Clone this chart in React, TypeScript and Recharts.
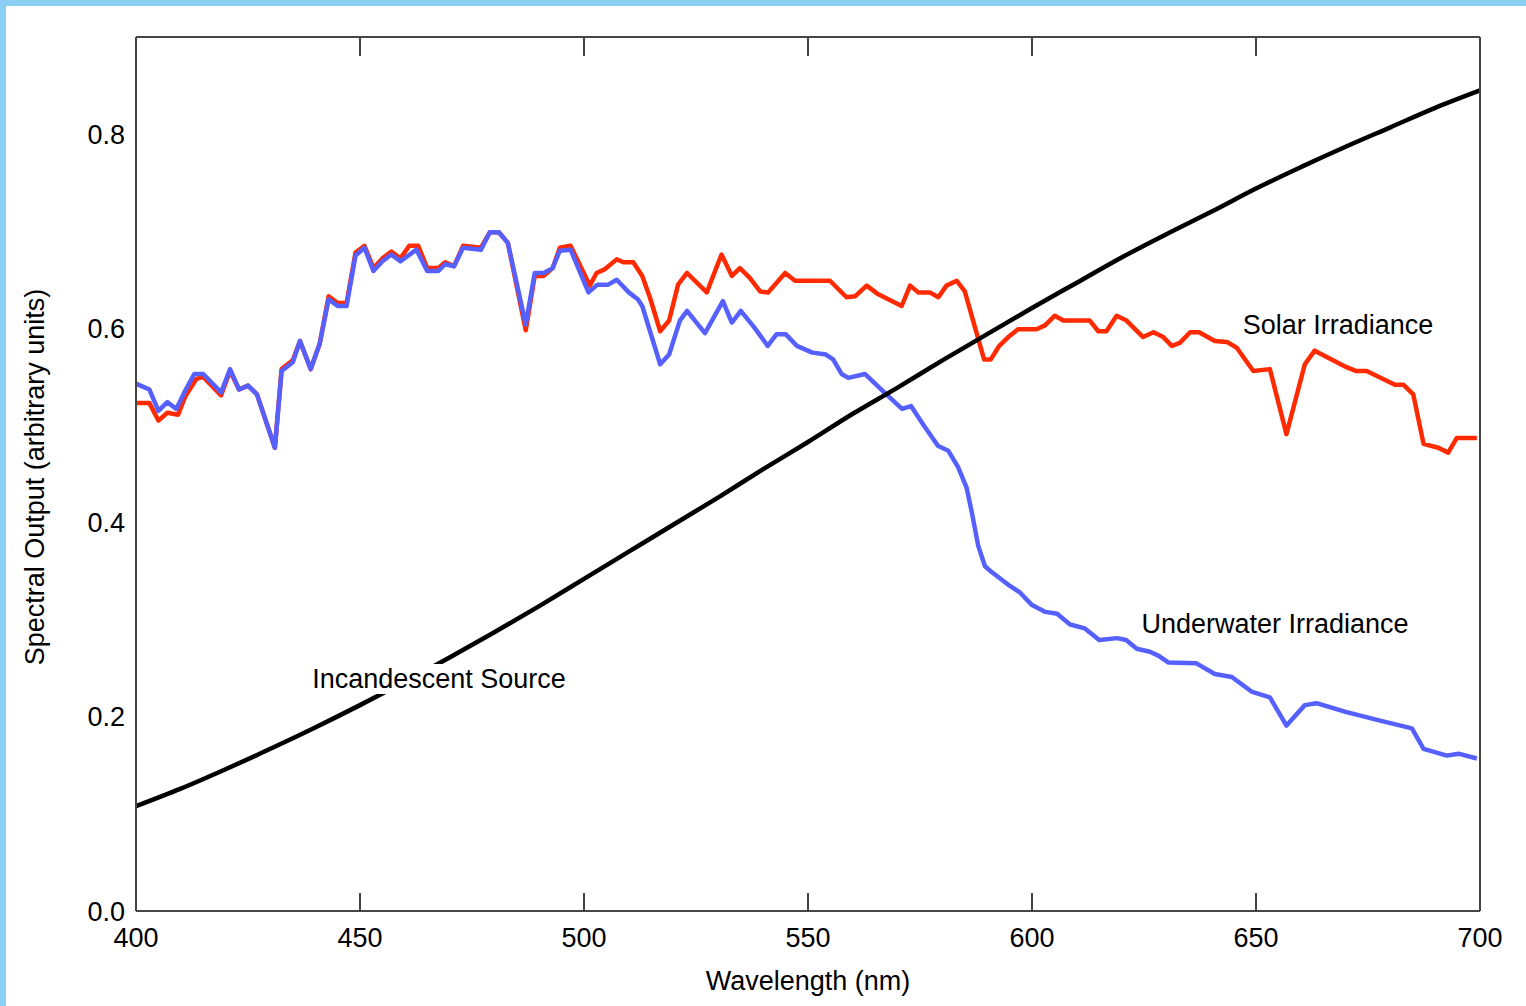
import React from 'react';
import { LineChart, Line, XAxis, YAxis } from 'recharts';

const FONT = '"Liberation Sans", Arial, Helvetica, sans-serif';

const xTicks = [400, 450, 500, 550, 600, 650, 700];
const yTicks = [0, 0.2, 0.4, 0.6, 0.8];

const solarWavelengths = [
  400, 403, 405, 407, 409.4, 411, 413.5, 415, 419, 421, 423, 425, 427, 431, 432.5, 435, 436.6, 439, 441, 443,
  445, 447, 449, 451, 453, 455, 457, 459, 461, 463, 465, 467.5, 469, 471, 473, 477, 479, 481, 483, 487,
  489, 491, 493, 494.6, 497, 501.3, 502.8, 504.7, 507.3, 508.8, 511, 513, 514.7, 517, 519, 521, 523, 527.4, 530.7, 533,
  534.8, 537, 539.3, 541.1, 544.9, 547.1, 554.9, 558.6, 560.5, 563.1, 565.7, 570.9, 572.8, 574.6, 577.2, 579.1, 580.9, 583.2, 585, 589.3,
  590.8, 592.7, 594.7, 596.9, 601, 602.9, 605.1, 607, 612.9, 614.8, 616.6, 618.9, 621.1, 624.8, 627.1, 629.3, 631.2, 633, 635.3, 637.3,
  640.8, 643.5, 645.7, 649.4, 653.1, 656.8, 660.9, 663.1, 670.2, 672.4, 674.7, 681, 682.9, 685.1, 687.4, 690.7, 692.9, 694.8, 699.3,
];
const solarValues = [
  0.523, 0.523, 0.505, 0.513, 0.511, 0.53, 0.548, 0.55, 0.531, 0.556, 0.537, 0.541, 0.532, 0.477, 0.558, 0.567, 0.587, 0.558, 0.584, 0.633,
  0.626, 0.626, 0.678, 0.685, 0.662, 0.672, 0.679, 0.672, 0.685, 0.685, 0.662, 0.662, 0.668, 0.664, 0.685, 0.683, 0.699, 0.699, 0.688, 0.598,
  0.654, 0.654, 0.662, 0.683, 0.685, 0.644, 0.657, 0.661, 0.671, 0.668, 0.668, 0.654, 0.632, 0.597, 0.608, 0.645, 0.657, 0.637, 0.676, 0.654,
  0.662, 0.652, 0.638, 0.637, 0.657, 0.649, 0.649, 0.632, 0.633, 0.644, 0.635, 0.623, 0.644, 0.637, 0.637, 0.632, 0.644, 0.649, 0.638, 0.568,
  0.568, 0.582, 0.591, 0.599, 0.599, 0.603, 0.613, 0.608, 0.608, 0.597, 0.597, 0.613, 0.608, 0.591, 0.596, 0.591, 0.582, 0.585, 0.596, 0.596,
  0.587, 0.586, 0.58, 0.556, 0.558, 0.491, 0.563, 0.577, 0.56, 0.556, 0.556, 0.542, 0.542, 0.532, 0.481, 0.477, 0.472, 0.487, 0.487,
];

const underwaterWavelengths = [
  400, 403, 405, 407, 409, 411, 413, 415, 419, 421, 423, 425, 427, 431, 432.5, 435, 436.6, 439, 441, 443,
  445, 447, 449, 451, 453, 455, 457, 459, 462.6, 465, 467.5, 469, 471, 473, 477, 479, 481, 483, 487, 489,
  491, 493, 494.6, 497, 501, 503, 505.4, 507.3, 510, 512, 513, 517, 519, 521.4, 523, 527, 531, 533, 535, 538,
  541, 543, 545, 547.5, 551, 554, 555.6, 557.5, 559, 562.7, 567.5, 571, 573, 575.7, 579, 581.3, 583.5, 585.4, 586.5, 588,
  589.5, 591, 595, 597.3, 600, 603, 605.6, 608.5, 611.8, 615, 619, 621, 623.4, 626.3, 628.2, 630.4, 636.7, 640.8, 644.6, 649,
  653.1, 656.8, 660.9, 663.5, 670, 677.7, 684.8, 687.4, 692.6, 695.2, 699.3,
];
const underwaterValues = [
  0.543, 0.537, 0.515, 0.524, 0.517, 0.536, 0.553, 0.553, 0.534, 0.558, 0.537, 0.541, 0.532, 0.477, 0.556, 0.565, 0.587, 0.558, 0.584, 0.63,
  0.623, 0.623, 0.675, 0.683, 0.659, 0.669, 0.676, 0.669, 0.681, 0.659, 0.659, 0.666, 0.664, 0.683, 0.681, 0.699, 0.699, 0.688, 0.604, 0.657,
  0.657, 0.662, 0.68, 0.681, 0.637, 0.645, 0.645, 0.65, 0.637, 0.63, 0.623, 0.563, 0.573, 0.608, 0.618, 0.595, 0.628, 0.606, 0.618, 0.601,
  0.582, 0.594, 0.594, 0.582, 0.575, 0.573, 0.568, 0.553, 0.549, 0.553, 0.532, 0.517, 0.52, 0.501, 0.479, 0.474, 0.457, 0.436, 0.412, 0.376,
  0.355, 0.349, 0.335, 0.328, 0.315, 0.308, 0.306, 0.295, 0.291, 0.279, 0.281, 0.279, 0.27, 0.267, 0.263, 0.256, 0.255, 0.244, 0.241, 0.226,
  0.22, 0.191, 0.212, 0.214, 0.205, 0.196, 0.188, 0.167, 0.16, 0.162, 0.157,
];

const incandescentWavelengths = [
  400, 410, 420, 430, 440, 450, 460, 470, 480, 490, 500, 510, 520, 530, 540, 550,
  560, 570, 580, 590, 600, 610, 620, 630, 640, 650, 660, 670, 680, 690, 700,
];
const incandescentValues = [
  0.108, 0.126, 0.146, 0.167, 0.189, 0.212, 0.236, 0.261, 0.287, 0.314, 0.342, 0.37, 0.398, 0.426, 0.455, 0.483,
  0.512, 0.539, 0.567, 0.594, 0.621, 0.647, 0.673, 0.697, 0.72, 0.744, 0.766, 0.787, 0.807, 0.827, 0.845,
];

const toPoints = (xs: number[], ys: number[]) => xs.map((x, i) => ({ wavelength: x, value: ys[i] }));
const solarData = toPoints(solarWavelengths, solarValues);
const underwaterData = toPoints(underwaterWavelengths, underwaterValues);
const incandescentData = toPoints(incandescentWavelengths, incandescentValues);

const AXIS_COLOR = '#454545';
const FS = 27;
const LW = 4.5;

function Annotations() {
  return (
    <svg
      width={1526}
      height={1006}
      style={{ position: 'absolute', left: 0, top: 0, pointerEvents: 'none' }}
    >
      <g fontFamily={FONT} fontSize={FS} fill="#000">
        <text x={35} y={477} transform="rotate(-90 35 477)" textAnchor="middle" dominantBaseline="central">
          Spectral Output (arbitrary units)
        </text>
        <text x={1338} y={325} textAnchor="middle" dominantBaseline="central">
          Solar Irradiance
        </text>
        <text x={1275} y={624} textAnchor="middle" dominantBaseline="central">
          Underwater Irradiance
        </text>
        <rect x={306} y={664} width={266} height={30} fill="#ffffff" />
        <text x={439} y={679} textAnchor="middle" dominantBaseline="central">
          Incandescent Source
        </text>
      </g>
    </svg>
  );
}

export default function App() {
  return (
    <div style={{ position: 'absolute', left: 0, top: 0, width: 1526, height: 1006, background: '#8ccff4' }}>
      <div style={{ position: 'absolute', left: 6, top: 6, width: 1520, height: 1000, background: '#ffffff' }} />
      <div style={{ position: 'absolute', left: 0, top: 0 }}>
        <LineChart
          width={1526}
          height={1006}
          margin={{ top: 36, right: 45, bottom: 35, left: 76 }}
          style={{ fontFamily: FONT }}
        >
          <XAxis
            dataKey="wavelength"
            type="number"
            domain={[400, 700]}
            ticks={xTicks}
            allowDataOverflow
            height={60}
            axisLine={{ stroke: AXIS_COLOR, strokeWidth: 2 }}
            tickLine={{ stroke: AXIS_COLOR, strokeWidth: 2 }}
            tickSize={-18}
            tickMargin={35}
            tick={{ fill: '#000', fontSize: FS, fontFamily: FONT }}
            label={{ value: 'Wavelength (nm)', position: 'bottom', offset: 0, fill: '#000', fontSize: FS, fontFamily: FONT }}
          />
          <XAxis
            xAxisId="top"
            orientation="top"
            dataKey="wavelength"
            type="number"
            domain={[400, 700]}
            ticks={xTicks}
            allowDataOverflow
            height={1}
            axisLine={{ stroke: AXIS_COLOR, strokeWidth: 2 }}
            tickLine={{ stroke: AXIS_COLOR, strokeWidth: 2 }}
            tickSize={-19}
            tickFormatter={() => ''}
            tick={{ fill: 'none', fontSize: 1 }}
          />
          <YAxis
            type="number"
            domain={[0, 0.9]}
            ticks={yTicks}
            allowDataOverflow
            width={60}
            axisLine={{ stroke: AXIS_COLOR, strokeWidth: 2 }}
            tickLine={false}
            tickSize={0}
            tickMargin={11}
            tickFormatter={(v: number) => v.toFixed(1)}
            tick={{ fill: '#000', fontSize: FS, fontFamily: FONT }}
          />
          <YAxis
            yAxisId="right"
            orientation="right"
            type="number"
            domain={[0, 0.9]}
            ticks={yTicks}
            allowDataOverflow
            width={1}
            axisLine={{ stroke: AXIS_COLOR, strokeWidth: 2 }}
            tickLine={false}
            tick={false}
          />
          <Line
            data={solarData}
            dataKey="value"
            type="linear"
            stroke="#ff2a00"
            strokeWidth={LW}
            dot={false}
            isAnimationActive={false}
            strokeLinejoin="round"
          />
          <Line
            data={underwaterData}
            dataKey="value"
            xAxisId="top"
            yAxisId="right"
            type="linear"
            stroke="#5560ff"
            strokeWidth={LW}
            dot={false}
            isAnimationActive={false}
            strokeLinejoin="round"
          />
          <Line
            data={incandescentData}
            dataKey="value"
            type="monotone"
            stroke="#000000"
            strokeWidth={LW}
            dot={false}
            isAnimationActive={false}
          />
        </LineChart>
      </div>
      <Annotations />
    </div>
  );
}
